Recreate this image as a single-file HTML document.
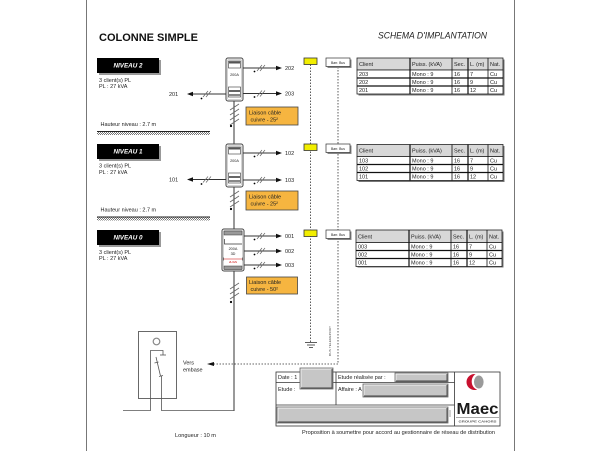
<!DOCTYPE html>
<html><head><meta charset="utf-8"><style>
html,body{margin:0;padding:0;background:#fff;}
svg{display:block;font-family:"Liberation Sans",Arial,sans-serif;}
</style></head><body>
<svg width="600" height="460" viewBox="0 0 600 460" xmlns="http://www.w3.org/2000/svg">
<defs>
<pattern id="h" width="2" height="2" patternUnits="userSpaceOnUse"><rect width="2" height="2" fill="#fff"/><rect width="1" height="1" fill="#777"/><rect x="1" y="1" width="1" height="1" fill="#777"/></pattern>
</defs>
<rect width="600" height="460" fill="#fff"/>
<!-- page borders -->
<line x1="86.5" y1="0" x2="86.5" y2="451" stroke="#777" stroke-width="1"/>
<line x1="514.5" y1="0" x2="514.5" y2="451" stroke="#777" stroke-width="1"/>

<text x="99" y="41" font-size="11" font-weight="bold" fill="#111" textLength="99" lengthAdjust="spacingAndGlyphs">COLONNE SIMPLE</text>
<text x="378" y="38.5" font-size="9.5" font-style="italic" fill="#222" textLength="109" lengthAdjust="spacingAndGlyphs">SCHEMA D'IMPLANTATION</text>

<!-- NIVEAU boxes -->
<g>
<rect x="99" y="60" width="62" height="15" fill="#999"/>
<rect x="97" y="58" width="62" height="15" fill="#000"/>
<text x="128" y="67.7" font-size="6.3" font-weight="bold" font-style="italic" fill="#fff" text-anchor="middle">NIVEAU 2</text>
<rect x="99" y="146" width="62" height="15" fill="#999"/>
<rect x="97" y="144" width="62" height="15" fill="#000"/>
<text x="128" y="153.7" font-size="6.3" font-weight="bold" font-style="italic" fill="#fff" text-anchor="middle">NIVEAU 1</text>
<rect x="99" y="232" width="62" height="15" fill="#999"/>
<rect x="97" y="230" width="62" height="15" fill="#000"/>
<text x="128" y="239.7" font-size="6.3" font-weight="bold" font-style="italic" fill="#fff" text-anchor="middle">NIVEAU 0</text>
</g>

<g font-size="5.5" fill="#222">
<text x="99" y="82">3 client(s) PL</text>
<text x="99" y="88">PL : 27 kVA</text>
<text x="99" y="167.5">3 client(s) PL</text>
<text x="99" y="174">PL : 27 kVA</text>
<text x="99" y="254">3 client(s) PL</text>
<text x="99" y="260">PL : 27 kVA</text>
<text x="100.5" y="126">Hauteur  niveau : 2.7 m</text>
<text x="100.5" y="211.5">Hauteur  niveau : 2.7 m</text>
</g>

<!-- floor bars -->
<line x1="97" y1="131.5" x2="210" y2="131.5" stroke="#222" stroke-width="1"/>
<rect x="97" y="132" width="113" height="3" fill="url(#h)"/>
<line x1="97" y1="217" x2="210" y2="217" stroke="#222" stroke-width="1"/>
<rect x="97" y="217.5" width="113" height="3" fill="url(#h)"/>

<!-- riser -->
<g stroke="#333" stroke-width="1">
<line x1="234" y1="101" x2="234" y2="144"/>
<line x1="234" y1="187" x2="234" y2="229"/>
<line x1="234" y1="271" x2="234" y2="411"/>
</g>
<!-- riser hatches -->
<g stroke="#666" stroke-width="0.8">
<line x1="230" y1="110" x2="239" y2="104"/>
<line x1="230" y1="115" x2="239" y2="109"/>
<line x1="230" y1="120" x2="239" y2="114"/>
<line x1="230" y1="125" x2="239" y2="119"/>
<line x1="230" y1="197" x2="239" y2="191"/>
<line x1="230" y1="202" x2="239" y2="196"/>
<line x1="230" y1="207" x2="239" y2="201"/>
<line x1="230" y1="289" x2="239" y2="283"/>
<line x1="230" y1="294" x2="239" y2="288"/>
<line x1="230" y1="299" x2="239" y2="293"/>
</g>
<g fill="#000">
<circle cx="231" cy="126" r="1.1"/>
<circle cx="231" cy="209" r="1.1"/>
<circle cx="231" cy="302" r="1.1"/>
</g>

<!-- meter box L2 -->
<g>
<rect x="226" y="58" width="17" height="43" rx="2" fill="#fff" stroke="#444" stroke-width="1"/>
<rect x="227.5" y="59.5" width="14" height="40" rx="1" fill="none" stroke="#aaa" stroke-width="0.5"/>
<rect x="228.5" y="61" width="12" height="7" fill="none" stroke="#333" stroke-width="0.6"/>
<rect x="229" y="61.5" width="11" height="2" fill="#555"/>
<text x="234.5" y="76" font-size="3.8" fill="#222" text-anchor="middle">200A</text>
<rect x="228.5" y="87" width="12" height="10" fill="none" stroke="#333" stroke-width="0.6"/>
<rect x="229" y="90" width="11" height="2" fill="#666"/>
<rect x="229" y="94" width="11" height="2" fill="#888"/>
</g>
<!-- meter box L1 -->
<g>
<rect x="226" y="144" width="17" height="43" rx="2" fill="#fff" stroke="#444" stroke-width="1"/>
<rect x="227.5" y="145.5" width="14" height="40" rx="1" fill="none" stroke="#aaa" stroke-width="0.5"/>
<rect x="228.5" y="147" width="12" height="7" fill="none" stroke="#333" stroke-width="0.6"/>
<rect x="229" y="147.5" width="11" height="2" fill="#555"/>
<text x="234.5" y="162" font-size="3.8" fill="#222" text-anchor="middle">200A</text>
<rect x="228.5" y="173" width="12" height="10" fill="none" stroke="#333" stroke-width="0.6"/>
<rect x="229" y="176" width="11" height="2" fill="#666"/>
<rect x="229" y="180" width="11" height="2" fill="#888"/>
</g>
<!-- meter box L0 -->
<g>
<rect x="222" y="229" width="22" height="42" rx="2" fill="#fff" stroke="#444" stroke-width="1"/>
<rect x="223.5" y="230.5" width="19" height="39" rx="1" fill="none" stroke="#aaa" stroke-width="0.5"/>
<rect x="224" y="231" width="18" height="4" fill="#999" stroke="#333" stroke-width="0.5"/>
<polyline points="224.5,239 224.5,244 242,244" fill="none" stroke="#333" stroke-width="0.7"/>
<text x="233" y="250" font-size="3.8" fill="#222" text-anchor="middle">200A</text>
<text x="233" y="255" font-size="3.8" fill="#222" text-anchor="middle">3D</text>
<line x1="223.5" y1="259" x2="242.5" y2="259" stroke="#c00" stroke-width="0.6"/>
<line x1="223.5" y1="257.5" x2="223.5" y2="260.5" stroke="#333" stroke-width="0.6"/>
<line x1="242.5" y1="257.5" x2="242.5" y2="260.5" stroke="#333" stroke-width="0.6"/>
<text x="233" y="263" font-size="2.8" fill="#c00" text-anchor="middle">2LIGN</text>
<rect x="224" y="266" width="18" height="3.5" fill="#999" stroke="#333" stroke-width="0.5"/>
</g>

<!-- horizontal arrows -->
<g stroke="#333" stroke-width="0.9">
<line x1="243" y1="68" x2="277" y2="68"/>
<line x1="243" y1="93.5" x2="277" y2="93.5"/>
<line x1="226" y1="94" x2="192" y2="94"/>
<line x1="243" y1="153" x2="277" y2="153"/>
<line x1="243" y1="180" x2="277" y2="180"/>
<line x1="226" y1="179.5" x2="192" y2="179.5"/>
<line x1="244" y1="236" x2="277" y2="236"/>
<line x1="244" y1="251" x2="277" y2="251"/>
<line x1="244" y1="265" x2="277" y2="265"/>
</g>
<g fill="#111">
<polygon points="276,65.8 282,68 276,70.2"/>
<polygon points="276,91.3 282,93.5 276,95.7"/>
<polygon points="193,91.8 187,94 193,96.2"/>
<polygon points="276,150.8 282,153 276,155.2"/>
<polygon points="276,177.8 282,180 276,182.2"/>
<polygon points="193,177.3 187,179.5 193,181.7"/>
<polygon points="276,233.8 282,236 276,238.2"/>
<polygon points="276,248.8 282,251 276,253.2"/>
<polygon points="276,262.8 282,265 276,267.2"/>
</g>
<!-- slashes on arrows -->
<g stroke="#666" stroke-width="0.7">
<line x1="257" y1="71" x2="262" y2="65"/><line x1="260" y1="71" x2="265" y2="65"/>
<line x1="257" y1="96.5" x2="262" y2="90.5"/><line x1="260" y1="96.5" x2="265" y2="90.5"/>
<line x1="203" y1="97" x2="208" y2="91"/><line x1="206" y1="97" x2="211" y2="91"/>
<line x1="257" y1="156" x2="262" y2="150"/><line x1="260" y1="156" x2="265" y2="150"/>
<line x1="257" y1="183" x2="262" y2="177"/><line x1="260" y1="183" x2="265" y2="177"/>
<line x1="203" y1="182.5" x2="208" y2="176.5"/><line x1="206" y1="182.5" x2="211" y2="176.5"/>
<line x1="257" y1="239" x2="262" y2="233"/><line x1="260" y1="239" x2="265" y2="233"/>
<line x1="257" y1="254" x2="262" y2="248"/><line x1="260" y1="254" x2="265" y2="248"/>
<line x1="257" y1="268" x2="262" y2="262"/><line x1="260" y1="268" x2="265" y2="262"/>
</g>
<g fill="#000">
<circle cx="254.5" cy="71.5" r="0.9"/>
<circle cx="254.5" cy="97" r="0.9"/>
<circle cx="201.5" cy="98.5" r="0.9"/>
<circle cx="254.5" cy="156.5" r="0.9"/>
<circle cx="254.5" cy="183.5" r="0.9"/>
<circle cx="201.5" cy="184" r="0.9"/>
<circle cx="254.5" cy="239.5" r="0.9"/>
<circle cx="254.5" cy="254.5" r="0.9"/>
<circle cx="254.5" cy="268.5" r="0.9"/>
</g>
<g font-size="5.5" fill="#222">
<text x="285" y="70">202</text>
<text x="285" y="95.5">203</text>
<text x="169" y="96">201</text>
<text x="285" y="155">102</text>
<text x="285" y="182">103</text>
<text x="169" y="181.5">101</text>
<text x="285" y="238">001</text>
<text x="285" y="253">002</text>
<text x="285" y="267">003</text>
</g>

<!-- orange boxes -->
<g>
<rect x="246" y="107" width="52" height="18" fill="#f6b540" stroke="#444" stroke-width="0.8"/>
<text x="249" y="114.5" font-size="5.5" fill="#222">Liaison câble</text>
<text x="250.5" y="121.5" font-size="5.5" fill="#222">cuivre - 25²</text>
<rect x="246" y="191" width="52" height="19" fill="#f6b540" stroke="#444" stroke-width="0.8"/>
<text x="249" y="198.5" font-size="5.5" fill="#222">Liaison câble</text>
<text x="250.5" y="205.5" font-size="5.5" fill="#222">cuivre - 25²</text>
<rect x="246.5" y="277" width="51" height="17" fill="#f6b540" stroke="#444" stroke-width="0.8"/>
<text x="249" y="284" font-size="5.5" fill="#222">Liaison câble</text>
<text x="250.5" y="291" font-size="5.5" fill="#222">cuivre - 50²</text>
</g>

<!-- dashed lines -->
<g stroke="#333" stroke-width="0.8" stroke-dasharray="1.5,1.5" fill="none">
<line x1="310.5" y1="64.5" x2="310.5" y2="342"/>
<line x1="338" y1="67" x2="338" y2="364"/>
<line x1="338" y1="364" x2="214" y2="364"/>
</g>
<polygon points="214,362 207,364 214,366" fill="#111"/>
<!-- ground -->
<g stroke="#333" stroke-width="0.8">
<line x1="305" y1="342.5" x2="317" y2="342.5"/>
<line x1="307" y1="345" x2="315" y2="345"/>
<line x1="309" y1="347.5" x2="313" y2="347.5"/>
</g>
<text x="0" y="0" font-size="3" fill="#555" transform="translate(331,356) rotate(-90)" textLength="30" lengthAdjust="spacingAndGlyphs">BUS TELEREPORT</text>

<!-- yellow boxes -->
<g fill="#f2ee00" stroke="#333" stroke-width="0.8">
<rect x="304" y="58" width="13" height="6.5"/>
<rect x="304" y="144" width="13" height="6.5"/>
<rect x="304" y="230" width="13" height="6.5"/>
</g>
<!-- Barr Bus -->
<g>
<rect x="327.5" y="59.5" width="24" height="8.5" fill="#888"/>
<rect x="326" y="58" width="24" height="8.5" fill="#fff" stroke="#333" stroke-width="0.7"/>
<text x="338" y="63.8" font-size="3.4" fill="#222" text-anchor="middle">Barr. Bus</text>
<rect x="327.5" y="145.5" width="24" height="8.5" fill="#888"/>
<rect x="326" y="144" width="24" height="8.5" fill="#fff" stroke="#333" stroke-width="0.7"/>
<text x="338" y="149.8" font-size="3.4" fill="#222" text-anchor="middle">Barr. Bus</text>
<rect x="327.5" y="231.5" width="24" height="8.5" fill="#888"/>
<rect x="326" y="230" width="24" height="8.5" fill="#fff" stroke="#333" stroke-width="0.7"/>
<text x="338" y="235.8" font-size="3.4" fill="#222" text-anchor="middle">Barr. Bus</text>
</g>

<!-- tables -->
<g id="t2">
<rect x="358.5" y="59.5" width="146" height="36" fill="#777"/>
<rect x="357" y="58" width="146" height="12" fill="#d8d8d8" stroke="#222" stroke-width="0.8"/>
<rect x="357" y="70" width="146" height="24" fill="#fff" stroke="#222" stroke-width="0.8"/>
<g stroke="#111">
<line x1="357" y1="78" x2="503" y2="78" stroke-width="1.2"/>
<line x1="357" y1="86" x2="503" y2="86" stroke-width="1.2"/>
<line x1="410" y1="58" x2="410" y2="94" stroke-width="1.2"/>
<line x1="452" y1="58" x2="452" y2="94" stroke-width="0.8"/>
<line x1="468" y1="58" x2="468" y2="94" stroke-width="1.2"/>
<line x1="488" y1="58" x2="488" y2="94" stroke-width="0.8"/>
</g>
<g font-size="5.5" fill="#222">
<text x="359" y="66">Client</text><text x="412" y="66">Puiss. (kVA)</text><text x="454" y="66">Sec.</text><text x="470" y="66">L. (m)</text><text x="490" y="66">Nat.</text>
<text x="359" y="76">203</text><text x="412" y="76">Mono : 9</text><text x="454" y="76">16</text><text x="470" y="76">7</text><text x="490" y="76">Cu</text>
<text x="359" y="84">202</text><text x="412" y="84">Mono : 9</text><text x="454" y="84">16</text><text x="470" y="84">9</text><text x="490" y="84">Cu</text>
<text x="359" y="92">201</text><text x="412" y="92">Mono : 9</text><text x="454" y="92">16</text><text x="470" y="92">12</text><text x="490" y="92">Cu</text>
</g>
</g>
<g id="t1">
<rect x="358.5" y="146" width="146" height="36" fill="#777"/>
<rect x="357" y="144.5" width="146" height="12" fill="#d8d8d8" stroke="#222" stroke-width="0.8"/>
<rect x="357" y="156.5" width="146" height="24" fill="#fff" stroke="#222" stroke-width="0.8"/>
<g stroke="#111">
<line x1="357" y1="164.5" x2="503" y2="164.5" stroke-width="1.2"/>
<line x1="357" y1="172.5" x2="503" y2="172.5" stroke-width="1.2"/>
<line x1="410" y1="144.5" x2="410" y2="180.5" stroke-width="1.2"/>
<line x1="452" y1="144.5" x2="452" y2="180.5" stroke-width="0.8"/>
<line x1="468" y1="144.5" x2="468" y2="180.5" stroke-width="1.2"/>
<line x1="488" y1="144.5" x2="488" y2="180.5" stroke-width="0.8"/>
</g>
<g font-size="5.5" fill="#222">
<text x="359" y="152.5">Client</text><text x="412" y="152.5">Puiss. (kVA)</text><text x="454" y="152.5">Sec.</text><text x="470" y="152.5">L. (m)</text><text x="490" y="152.5">Nat.</text>
<text x="359" y="162.5">103</text><text x="412" y="162.5">Mono : 9</text><text x="454" y="162.5">16</text><text x="470" y="162.5">7</text><text x="490" y="162.5">Cu</text>
<text x="359" y="170.5">102</text><text x="412" y="170.5">Mono : 9</text><text x="454" y="170.5">16</text><text x="470" y="170.5">9</text><text x="490" y="170.5">Cu</text>
<text x="359" y="178.5">101</text><text x="412" y="178.5">Mono : 9</text><text x="454" y="178.5">16</text><text x="470" y="178.5">12</text><text x="490" y="178.5">Cu</text>
</g>
</g>
<g id="t0">
<rect x="357.5" y="231.5" width="146" height="36" fill="#777"/>
<rect x="356" y="230" width="146" height="12.5" fill="#d8d8d8" stroke="#222" stroke-width="0.8"/>
<rect x="356" y="242.5" width="146" height="24" fill="#fff" stroke="#222" stroke-width="0.8"/>
<g stroke="#111">
<line x1="356" y1="250.5" x2="502" y2="250.5" stroke-width="1.2"/>
<line x1="356" y1="258.5" x2="502" y2="258.5" stroke-width="1.2"/>
<line x1="409" y1="230" x2="409" y2="266.5" stroke-width="1.2"/>
<line x1="451" y1="230" x2="451" y2="266.5" stroke-width="0.8"/>
<line x1="467" y1="230" x2="467" y2="266.5" stroke-width="1.2"/>
<line x1="487" y1="230" x2="487" y2="266.5" stroke-width="0.8"/>
</g>
<g font-size="5.5" fill="#222">
<text x="358" y="238.5">Client</text><text x="411" y="238.5">Puiss. (kVA)</text><text x="453" y="238.5">Sec.</text><text x="469" y="238.5">L. (m)</text><text x="489" y="238.5">Nat.</text>
<text x="358" y="248.5">003</text><text x="411" y="248.5">Mono : 9</text><text x="453" y="248.5">16</text><text x="469" y="248.5">7</text><text x="489" y="248.5">Cu</text>
<text x="358" y="256.5">002</text><text x="411" y="256.5">Mono : 9</text><text x="453" y="256.5">16</text><text x="469" y="256.5">9</text><text x="489" y="256.5">Cu</text>
<text x="358" y="264.5">001</text><text x="411" y="264.5">Mono : 9</text><text x="453" y="264.5">16</text><text x="469" y="264.5">12</text><text x="489" y="264.5">Cu</text>
</g>
</g>

<!-- house / embase -->
<rect x="138.5" y="331.5" width="38" height="67" fill="none" stroke="#444" stroke-width="0.8"/>
<circle cx="156.5" cy="341.5" r="3.3" fill="none" stroke="#888" stroke-width="1.2"/>
<g stroke="#555" stroke-width="0.8" fill="none">
<polyline points="123,410.5 150.5,410.5 150.5,350.5 163,350.5 163,355"/>
<line x1="160" y1="355" x2="166" y2="355"/>
<line x1="156" y1="357" x2="160.5" y2="376"/>
<line x1="154.5" y1="363" x2="158.5" y2="362"/>
<line x1="159" y1="376.5" x2="163" y2="375.5"/>
<polyline points="161.5,376 161.5,410.5 234,410.5"/>
</g>
<text x="183" y="364.5" font-size="5.5" fill="#222">Vers</text>
<text x="183" y="371.5" font-size="5.5" fill="#222">embase</text>
<text x="175" y="437" font-size="5.8" fill="#222" textLength="41" lengthAdjust="spacingAndGlyphs">Longueur : 10 m</text>

<!-- title block -->
<g stroke="#333" stroke-width="0.8" fill="none">
<rect x="276" y="372" width="224" height="54"/>
<line x1="454.5" y1="372" x2="454.5" y2="426"/>
<line x1="336" y1="372" x2="336" y2="405"/>
<line x1="276" y1="382.5" x2="454.5" y2="382.5"/>
<line x1="276" y1="405" x2="454.5" y2="405"/>
</g>
<g font-size="5.5" fill="#222">
<text x="278" y="379">Date : 1</text>
<text x="278" y="391">Etude :</text>
<text x="338" y="379">Etude réalisée par :</text>
<text x="338" y="391">Affaire : A</text>
</g>
<g>
<rect x="300" y="368" width="33" height="21" fill="#c6c6c6" stroke="#666" stroke-width="0.8"/>
<polyline points="301,388 301,369 332,369" stroke="#f2f2f2" fill="none" stroke-width="0.9"/>
<polyline points="301,388 332,388 332,369" stroke="#444" fill="none" stroke-width="0.9"/>
<rect x="395" y="373" width="53" height="9" fill="#c6c6c6" stroke="#666" stroke-width="0.8"/>
<polyline points="396,381 396,374 447,374" stroke="#f2f2f2" fill="none" stroke-width="0.9"/>
<polyline points="396,381 447,381 447,374" stroke="#444" fill="none" stroke-width="0.9"/>
<rect x="363" y="384" width="85" height="13" fill="#c6c6c6" stroke="#666" stroke-width="0.8"/>
<polyline points="364,396 364,385 447,385" stroke="#f2f2f2" fill="none" stroke-width="0.9"/>
<polyline points="364,396 447,396 447,385" stroke="#444" fill="none" stroke-width="0.9"/>
<rect x="277" y="407" width="171" height="16" fill="#c6c6c6" stroke="#666" stroke-width="0.8"/>
<polyline points="278,422 278,408 447,408" stroke="#f2f2f2" fill="none" stroke-width="0.9"/>
<polyline points="278,422 447,422 447,408" stroke="#444" fill="none" stroke-width="0.9"/>
<line x1="450" y1="410" x2="450" y2="417" stroke="#666" stroke-width="0.6"/>
</g>
<!-- logo -->
<circle cx="474.5" cy="382" r="8" fill="#c8102e"/>
<ellipse cx="478.5" cy="381.5" rx="6.8" ry="8.2" fill="#fff"/>
<ellipse cx="478.8" cy="382" rx="4.8" ry="6.5" fill="#9a9a9a"/>
<text x="456.5" y="414" font-size="16" font-weight="bold" fill="#1a1a1a" textLength="42" lengthAdjust="spacingAndGlyphs">Maec</text>
<line x1="456" y1="417.5" x2="499" y2="417.5" stroke="#555" stroke-width="0.5"/>
<text x="477.5" y="422.5" font-size="3" font-weight="bold" fill="#555" text-anchor="middle" textLength="38" lengthAdjust="spacingAndGlyphs">GROUPE CAHORS</text>
<text x="302" y="434" font-size="5.5" fill="#222" textLength="193" lengthAdjust="spacingAndGlyphs">Proposition à soumettre pour accord au gestionnaire de réseau de distribution</text>
</svg>
</body></html>
